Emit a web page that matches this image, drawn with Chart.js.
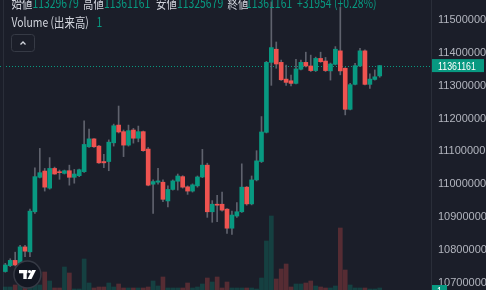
<!DOCTYPE html>
<html lang="ja">
<head>
  <meta charset="UTF-8">
  <title>Candles</title>
  <script src="https://cdn.jsdelivr.net/npm/chart.js"></script>
  <style>
    html, body { margin: 0; padding: 0; background: #1b1e29; overflow: hidden; }
    #wrap { width: 486px; height: 290px; }
  </style>
</head>
<body>
  <div id="wrap">
    <canvas id="chart" width="486" height="290"></canvas>
  </div>

  <script>
    // OHLC (one entry per candle)
    const opens = [10734000, 10752000, 10768000, 10759000, 10809000, 10794000, 10916000, 11021000, 11040000, 10988000,
      11048000, 11038000, 11033000, 11041000, 11021000, 11026000, 11038000, 11114000, 11138000, 11116000,
      11069000, 11069000, 11126000, 11180000, 11160000, 11119000, 11165000, 11140000, 11160000, 11107000,
      11000000, 11006000, 11006000, 10949000, 10984000, 11009000, 11023000, 10992000, 10979000, 10995000,
      11022000, 11058000, 10916000, 10939000, 10939000, 10924000, 10866000, 10903000, 10916000, 10991000,
      10940000, 11013000, 11069000, 11158000, 11371000, 11411000, 11371000, 11320000, 11315000, 11307000,
      11350000, 11371000, 11360000, 11346000, 11383000, 11375000, 11345000, 11365000, 11406000, 11353000,
      11228000, 11304000, 11360000, 11406000, 11304000, 11319000, 11329679];
    const highs = [10759000, 10773000, 10793000, 10814000, 10814000, 10924000, 11050000, 11109000, 11048000, 11081000,
      11052000, 11043000, 11043000, 11058000, 11045000, 11046000, 11193000, 11168000, 11139000, 11118000,
      11091000, 11135000, 11183000, 11238000, 11165000, 11180000, 11170000, 11177000, 11162000, 11112000,
      11013000, 11048000, 11013000, 10995000, 11013000, 11031000, 11026000, 10995000, 11001000, 11025000,
      11106000, 11064000, 10950000, 10966000, 10976000, 10926000, 10918000, 10944000, 11062000, 10993000,
      11025000, 11102000, 11206000, 11374000, 11555000, 11433000, 11378000, 11363000, 11332000, 11380000,
      11378000, 11402000, 11393000, 11387000, 11402000, 11386000, 11369000, 11419000, 11539000, 11355000,
      11307000, 11368000, 11414000, 11409000, 11336000, 11348000, 11361161];
    const lows = [10732000, 10749000, 10751000, 10757000, 10779000, 10779000, 10911000, 11019000, 10979000, 10985000,
      11030000, 11015000, 11031000, 10997000, 11003000, 11023000, 11036000, 11112000, 11112000, 11063000,
      11050000, 11041000, 11116000, 11156000, 11084000, 11116000, 11125000, 11129000, 11100000, 10995000,
      10911000, 11000000, 10947000, 10931000, 10982000, 10982000, 10988000, 10969000, 10976000, 10991000,
      11020000, 10899000, 10884000, 10886000, 10918000, 10850000, 10847000, 10899000, 10914000, 10936000,
      10937000, 11010000, 11066000, 11156000, 11301000, 11353000, 11316000, 11301000, 11299000, 11305000,
      11348000, 11357000, 11343000, 11343000, 11371000, 11343000, 11317000, 11363000, 11333000, 11211000,
      11226000, 11302000, 11358000, 11302000, 11292000, 11317000, 11325679];
    const closes = [10754000, 10768000, 10754000, 10809000, 10796000, 10918000, 11023000, 11035000, 10991000, 11048000,
      11031000, 11035000, 11041000, 11021000, 11031000, 11044000, 11121000, 11138000, 11114000, 11065000,
      11065000, 11128000, 11178000, 11159000, 11119000, 11163000, 11140000, 11160000, 11102000, 10997000,
      11008000, 11010000, 10954000, 10984000, 11010000, 11025000, 10991000, 10979000, 10998000, 11022000,
      11058000, 10916000, 10939000, 10936000, 10921000, 10866000, 10906000, 10916000, 10991000, 10940000,
      11013000, 11071000, 11159000, 11371000, 11416000, 11366000, 11318000, 11310000, 11307000, 11351000,
      11371000, 11360000, 11346000, 11383000, 11373000, 11346000, 11366000, 11411000, 11345000, 11228000,
      11303000, 11361000, 11406000, 11304000, 11320000, 11327000, 11361161];
    const volumes = [0.3, 0.3, 0.5, 0.5, 0.5, 0.8, 1.0, 0.5, 1.8, 0.9,
      0.2, 0.2, 2.3, 1.7, 0.1, 0.1, 3.1, 0.7, 0.2, 0.3,
      0.3, 0.7, 0.3, 0.6, 0.2, 0.2, 0.2, 0.2, 0.2, 0.3,
      0.9, 0.4, 1.3, 0.2, 0.2, 0.2, 0.2, 0.7, 0.2, 0.3,
      0.6, 1.2, 0.8, 1.3, 0.2, 0.8, 0.2, 0.2, 0.2, 0.2,
      0.2, 0.1, 1.2, 4.9, 7.4, 1.1, 2.1, 2.6, 0.3, 0.6,
      0.6, 0.7, 0.9, 0.4, 0.3, 0.2, 0.2, 0.4, 6.2, 2.0,
      0.5, 0.2, 0.2, 0.2, 0.1, 0.1, 0.2];
    const yTicks = [10700000, 10800000, 10900000, 11000000, 11100000, 11200000, 11300000, 11400000, 11500000];
    const lastPrice = 11361161;

    const UP = "#089981";
    const DOWN = "#ef5350";
    const idx = closes.map((c, i) => i);
    const isUp = i => closes[i] >= opens[i];

    // text is slightly condensed in the original screenshot
    function txt(ctx, s, x, y, color, font) {
      ctx.save();
      ctx.font = font || "13px 'Noto Sans CJK JP', 'Noto Sans', sans-serif";
      ctx.fillStyle = color;
      ctx.textBaseline = "alphabetic";
      ctx.translate(x, y);
      ctx.scale(0.8, 1);
      ctx.fillText(s, 0, 0);
      ctx.restore();
    }

    const decor = {
      id: "decor",
      beforeDraw(chart) {
        const { ctx } = chart;
        ctx.save();
        ctx.fillStyle = "#1b1e29";
        ctx.fillRect(0, 0, chart.width, chart.height);
        ctx.restore();
      },
      beforeDatasetsDraw(chart) {
        const { ctx, chartArea, scales } = chart;
        const y = Math.round(scales.y.getPixelForValue(lastPrice)) + 0.5;
        ctx.save();
        ctx.strokeStyle = UP;
        ctx.lineWidth = 1;
        ctx.setLineDash([1, 2]);
        ctx.beginPath();
        ctx.moveTo(chartArea.left, y);
        ctx.lineTo(chartArea.right, y);
        ctx.stroke();
        // left pane edge
        ctx.setLineDash([]);
        ctx.strokeStyle = "#2a2e39";
        ctx.beginPath();
        ctx.moveTo(3.5, 0);
        ctx.lineTo(3.5, chart.height);
        ctx.stroke();
        ctx.restore();
      },
      afterDraw(chart) {
        const { ctx, chartArea, scales } = chart;
        const lbl = "#d1d4dc";
        // legend line
        txt(ctx, "始値", 11.5, 8.3, lbl);
        txt(ctx, "11329679", 32.5, 8.3, UP);
        txt(ctx, "高値", 83, 8.3, lbl);
        txt(ctx, "11361161", 104, 8.3, UP);
        txt(ctx, "安値", 156, 8.3, lbl);
        txt(ctx, "11325679", 177, 8.3, UP);
        txt(ctx, "終値", 227.5, 8.3, lbl);
        txt(ctx, "11361161", 246, 8.3, UP);
        txt(ctx, "+31954", 297, 8.3, UP);
        txt(ctx, "(+0.28%)", 334, 8.3, UP);
        txt(ctx, "Volume (出来高)", 11.5, 26.5, lbl);
        txt(ctx, "1", 96.5, 26.5, UP);

        // collapse button
        ctx.save();
        ctx.strokeStyle = "#363a45";
        ctx.lineWidth = 1;
        ctx.beginPath();
        ctx.roundRect(11.5, 34.5, 23, 17, 3);
        ctx.stroke();
        ctx.strokeStyle = "#d1d4dc";
        ctx.lineWidth = 1.3;
        ctx.beginPath();
        ctx.moveTo(20.5, 44.5);
        ctx.lineTo(23, 42);
        ctx.lineTo(25.5, 44.5);
        ctx.stroke();
        ctx.restore();

        // last price tag on the axis
        const py = scales.y.getPixelForValue(lastPrice);
        ctx.save();
        ctx.fillStyle = UP;
        ctx.fillRect(chartArea.right + 1, py - 6.5, 52, 13);
        ctx.fillRect(chartArea.right + 1, 285, 15, 10);
        ctx.restore();
        txt(ctx, "11361161", chartArea.right + 7, py + 4, "#ffffff", "11px 'Liberation Sans', sans-serif");
        txt(ctx, "1", chartArea.right + 6, 295, "#ffffff", "11px 'Liberation Sans', sans-serif");

        // TV badge
        ctx.save();
        ctx.beginPath();
        ctx.arc(27.4, 274.5, 13.5, 0, Math.PI * 2);
        ctx.fillStyle = "#131722";
        ctx.fill();
        ctx.lineWidth = 1.5;
        ctx.strokeStyle = "#363a45";
        ctx.stroke();
        ctx.fillStyle = "#ffffff";
        ctx.fillRect(19, 270, 8.3, 3.3);
        ctx.fillRect(23.3, 270, 3.4, 9);
        ctx.beginPath();
        ctx.arc(29.6, 271.6, 1.6, 0, Math.PI * 2);
        ctx.fill();
        ctx.beginPath();
        ctx.moveTo(32, 270);
        ctx.lineTo(36, 270);
        ctx.lineTo(31.5, 279);
        ctx.lineTo(27.5, 279);
        ctx.closePath();
        ctx.fill();
        ctx.restore();
      }
    };

    const ctx = document.getElementById("chart").getContext("2d");
    new Chart(ctx, {
      type: "bar",
      data: {
        datasets: [
          {
            label: "body",
            data: idx.map(i => ({ x: i, y: [opens[i], closes[i]] })),
            backgroundColor: idx.map(i => (isUp(i) ? UP : DOWN)),
            barThickness: 4,
            minBarLength: 1,
            grouped: false,
            yAxisID: "y",
          },
          {
            label: "wick",
            data: idx.map(i => ({ x: i, y: [lows[i], highs[i]] })),
            backgroundColor: "#5f626d",
            barThickness: 1,
            grouped: false,
            yAxisID: "y",
          },
          {
            label: "volume",
            data: idx.map(i => ({ x: i, y: volumes[i] })),
            backgroundColor: idx.map(i => (isUp(i) ? "rgba(8,153,129,0.28)" : "rgba(239,83,80,0.28)")),
            barThickness: 4,
            grouped: false,
            yAxisID: "yv",
          },
        ],
      },
      options: {
        responsive: false,
        animation: false,
        events: [],
        layout: { padding: 0 },
        plugins: { legend: { display: false }, tooltip: { enabled: false } },
        scales: {
          x: {
            type: "linear",
            offset: false,
            min: -1.08,
            max: 86.41,
            display: false,
          },
          y: {
            position: "right",
            min: 10677800,
            max: 11560900,
            grid: { display: false, drawTicks: false },
            border: { display: true, color: "#2a2e39" },
            ticks: {
              stepSize: 100000,
              padding: 7,
              color: "#b2b5be",
              font: { family: "'Liberation Sans Narrow', 'Liberation Sans', sans-serif", size: 11 },
              callback: v => String(v),
            },
            afterBuildTicks: scale => {
              scale.ticks = yTicks.map(v => ({ value: v }));
            },
            afterFit: scale => {
              scale.width = 55;
              scale.paddingTop = 0;
              scale.paddingBottom = 0;
            },
          },
          yv: {
            display: false,
            min: 0,
            max: 29,
          },
        },
      },
      plugins: [decor],
    });
  </script>
</body>
</html>
